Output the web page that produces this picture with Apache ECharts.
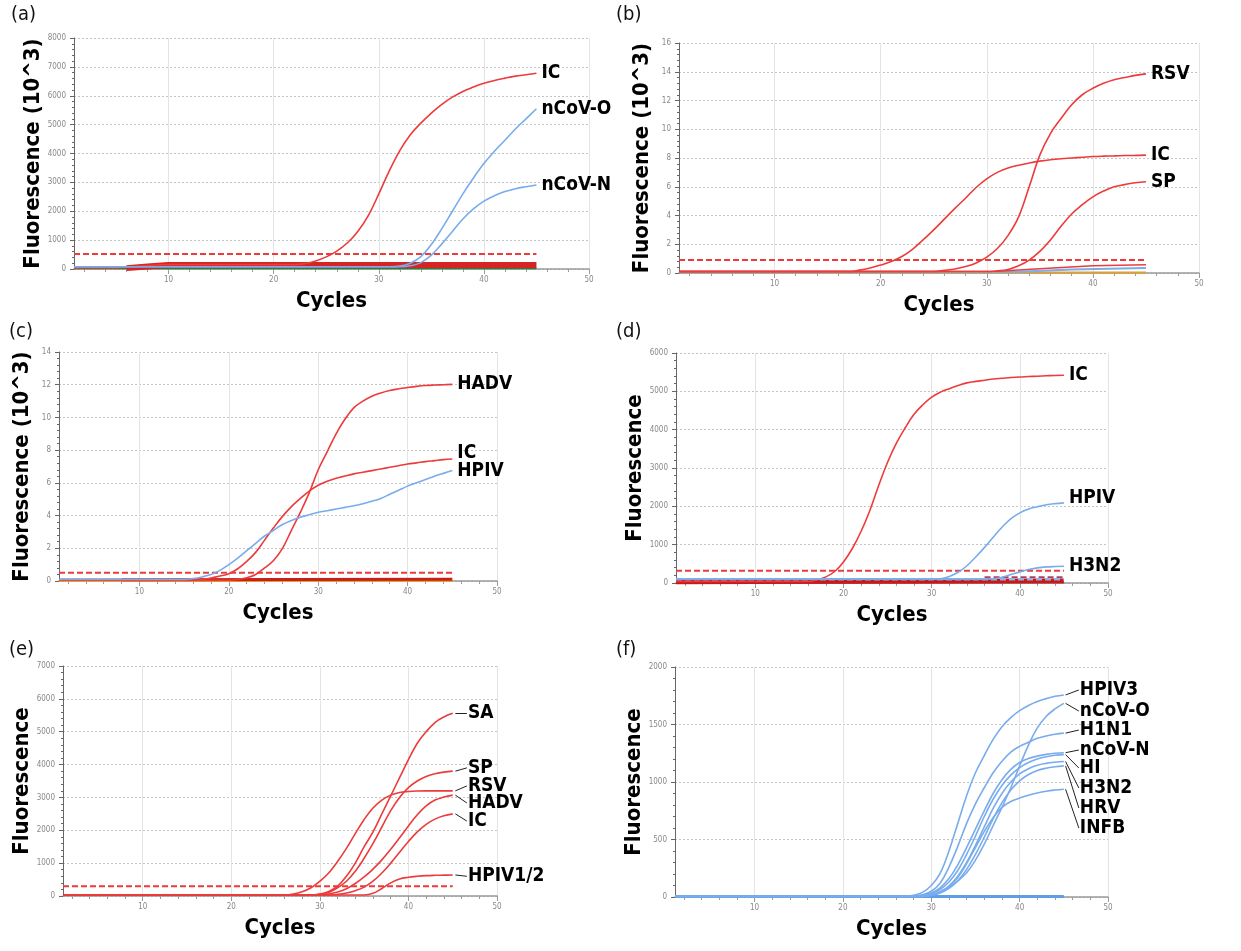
<!DOCTYPE html>
<html><head><meta charset="utf-8">
<script src="https://cdn.jsdelivr.net/npm/echarts@6/dist/echarts.min.js"></script>
<style>html,body{margin:0;padding:0;background:#fff}#c{width:1241px;height:951px}</style>
</head><body><div id="c"></div>
<script>
const cycles = [1,2,3,4,5,6,7,8,9,10,11,12,13,14,15,16,17,18,19,20,21,22,23,24,25,26,27,28,29,30,31,32,33,34,35,36,37,38,39,40,41,42,43,44,45];
const xTickLabels = [10,20,30,40,50];

// (a)
const aIC    = [40,40,40,40,40,60,90,120,140,150,150,150,150,150,150,150,150,150,150,150,150,150,190,280,420,620,900,1300,1850,2600,3400,4100,4650,5050,5400,5700,5950,6150,6300,6430,6530,6610,6680,6730,6780];
const aNCoVO = [80,80,80,80,80,80,80,80,80,80,80,80,80,80,80,80,80,80,80,80,80,80,80,80,80,80,80,80,80,80,80,100,200,430,850,1400,2000,2600,3150,3650,4080,4460,4850,5200,5550];
const aNCoVN = [80,80,80,80,80,80,80,80,80,80,80,80,80,80,80,80,80,80,80,80,80,80,80,80,80,80,80,80,80,80,80,80,110,220,480,870,1300,1730,2080,2350,2540,2680,2780,2850,2910];
const aThreshold = [[1,520],[45,520]];
const aBaseRed = [[6,30],[8,90],[10,140],[45,140]];
const aBaseGreen = [[1,25],[45,25]];

// (b)
const bRSV = [0.1,0.1,0.1,0.1,0.1,0.1,0.1,0.1,0.1,0.1,0.1,0.1,0.1,0.1,0.1,0.1,0.1,0.1,0.1,0.1,0.1,0.1,0.1,0.1,0.1,0.18,0.28,0.45,0.7,1.1,1.7,2.6,3.9,6.0,8.2,9.7,10.75,11.7,12.4,12.85,13.2,13.45,13.6,13.75,13.85];
const bIC  = [0.1,0.1,0.1,0.1,0.1,0.1,0.1,0.1,0.1,0.1,0.1,0.1,0.1,0.1,0.1,0.1,0.1,0.2,0.35,0.55,0.8,1.15,1.65,2.3,3.0,3.75,4.5,5.2,5.95,6.55,7.0,7.3,7.5,7.65,7.78,7.88,7.95,8.0,8.05,8.1,8.13,8.15,8.17,8.18,8.2];
const bSP  = [0.1,0.1,0.1,0.1,0.1,0.1,0.1,0.1,0.1,0.1,0.1,0.1,0.1,0.1,0.1,0.1,0.1,0.1,0.1,0.1,0.1,0.1,0.1,0.1,0.1,0.1,0.1,0.1,0.1,0.1,0.15,0.25,0.5,0.9,1.5,2.3,3.25,4.1,4.75,5.3,5.7,6.0,6.15,6.28,6.35];
const bThreshold = [[1,0.9],[45,0.9]];
const bLowRed = [[1,0.1],[31,0.12],[35,0.3],[40,0.5],[45,0.58]];
const bLowBlue = [[1,0.06],[33,0.08],[38,0.25],[45,0.35]];
const bBaseOrange = [[1,0.03],[45,0.03]];

// (c)
const cHADV = [0.05,0.05,0.05,0.05,0.05,0.05,0.05,0.05,0.05,0.05,0.05,0.05,0.05,0.05,0.05,0.05,0.05,0.05,0.05,0.05,0.1,0.2,0.4,0.8,1.25,2.0,3.1,4.2,5.4,6.8,7.9,9.0,9.9,10.6,11.0,11.3,11.5,11.65,11.75,11.83,11.9,11.95,11.98,12.0,12.02];
const cIC   = [0.1,0.1,0.1,0.1,0.1,0.1,0.1,0.1,0.1,0.1,0.1,0.1,0.1,0.1,0.1,0.1,0.1,0.18,0.3,0.45,0.75,1.2,1.75,2.5,3.25,3.95,4.55,5.05,5.5,5.85,6.1,6.28,6.42,6.55,6.65,6.75,6.85,6.95,7.05,7.15,7.22,7.3,7.36,7.42,7.46];
const cHPIV = [0.1,0.1,0.1,0.1,0.1,0.1,0.1,0.1,0.1,0.1,0.1,0.1,0.1,0.1,0.1,0.15,0.25,0.4,0.65,1.0,1.4,1.85,2.3,2.75,3.1,3.45,3.7,3.9,4.05,4.2,4.3,4.4,4.5,4.6,4.72,4.87,5.05,5.3,5.55,5.8,6.0,6.2,6.4,6.58,6.75];
const cThreshold = [[1,0.5],[45,0.5]];
const cBaseOrange = [[1,0.03],[45,0.03]];
const cBaseRed = [[8,0.08],[45,0.1]];

// (d)
const dIC   = [40,40,40,40,40,40,40,40,40,40,40,40,40,40,40,40,80,160,300,550,900,1350,1900,2550,3150,3650,4050,4400,4650,4850,4980,5070,5150,5220,5260,5290,5320,5340,5360,5375,5385,5395,5405,5415,5420];
const dHPIV = [100,100,100,100,100,100,100,100,100,100,100,100,100,100,100,100,100,100,100,100,100,100,100,100,100,100,100,100,100,100,110,170,280,450,680,930,1200,1460,1680,1830,1930,1990,2040,2070,2090];
const dH3N2 = [100,100,100,100,100,100,100,100,100,100,100,100,100,100,100,100,100,100,100,100,100,100,100,100,100,100,100,100,100,100,100,100,100,100,100,100,110,150,220,290,350,395,420,430,435];
const dThresholdRed = [[1,320],[45,320]];
const dThresholdBlue = [[1,96],[45,96]];
const dBaseRed = [[1,30],[10,40],[45,55]];
const dBaseDash = [[36,150],[45,150]];

// (e)
const eSA   = [30,30,30,30,30,30,30,30,30,30,30,30,30,30,30,30,30,30,30,30,30,30,30,30,30,30,30,30,30,60,140,300,600,1000,1500,1950,2500,3050,3600,4150,4650,5000,5280,5450,5560];
const eSP   = [30,30,30,30,30,30,30,30,30,30,30,30,30,30,30,30,30,30,30,30,30,30,30,30,30,30,30,30,30,50,110,250,450,750,1150,1600,2100,2600,3000,3300,3500,3640,3720,3770,3800];
const eRSV  = [30,30,30,30,30,30,30,30,30,30,30,30,30,30,30,30,30,30,30,30,30,30,30,30,30,30,60,130,250,450,700,1050,1450,1900,2330,2680,2920,3070,3150,3180,3195,3200,3200,3200,3200];
const eHADV = [30,30,30,30,30,30,30,30,30,30,30,30,30,30,30,30,30,30,30,30,30,30,30,30,30,30,30,30,30,30,60,120,220,380,580,820,1100,1420,1770,2130,2470,2740,2920,3010,3070];
const eIC   = [30,30,30,30,30,30,30,30,30,30,30,30,30,30,30,30,30,30,30,30,30,30,30,30,30,30,30,30,30,30,30,50,90,160,270,450,700,1000,1330,1660,1950,2180,2340,2440,2500];
const eHPIV12 = [30,30,30,30,30,30,30,30,30,30,30,30,30,30,30,30,30,30,30,30,30,30,30,30,30,30,30,30,30,30,30,30,30,30,30,80,230,400,520,570,600,620,630,635,640];
const eThreshold = [[1,300],[45,300]];
const eLabelNames = ['SA','SP','RSV','HADV','IC','HPIV1/2'];
const eLabelY = [5560,3900,3350,2830,2280,600];

// (f)
const fHPIV3 = [5,5,5,5,5,5,5,5,5,5,5,5,5,5,5,5,5,5,5,5,5,5,5,5,5,5,5,15,40,100,205,400,640,880,1080,1230,1370,1480,1560,1620,1665,1700,1725,1745,1757];
const fNCoVO = [5,5,5,5,5,5,5,5,5,5,5,5,5,5,5,5,5,5,5,5,5,5,5,5,5,5,5,5,5,20,40,80,140,210,320,460,620,780,950,1140,1320,1470,1570,1635,1684];
const fH1N1  = [5,5,5,5,5,5,5,5,5,5,5,5,5,5,5,5,5,5,5,5,5,5,5,5,5,5,5,5,20,50,120,260,440,640,810,950,1080,1180,1260,1310,1345,1380,1400,1415,1425];
const fNCoVN = [5,5,5,5,5,5,5,5,5,5,5,5,5,5,5,5,5,5,5,5,5,5,5,5,5,5,5,5,15,35,80,160,280,430,590,750,900,1020,1110,1170,1205,1225,1240,1250,1255];
const fHI    = [5,5,5,5,5,5,5,5,5,5,5,5,5,5,5,5,5,5,5,5,5,5,5,5,5,5,5,5,12,30,65,130,230,370,530,700,850,970,1060,1125,1170,1200,1220,1232,1238];
const fH3N2  = [5,5,5,5,5,5,5,5,5,5,5,5,5,5,5,5,5,5,5,5,5,5,5,5,5,5,5,5,5,20,45,95,180,300,450,610,770,900,1000,1070,1115,1145,1162,1172,1178];
const fHRV   = [5,5,5,5,5,5,5,5,5,5,5,5,5,5,5,5,5,5,5,5,5,5,5,5,5,5,5,5,5,15,35,75,140,240,370,520,680,820,930,1010,1065,1100,1120,1132,1140];
const fINFB  = [5,5,5,5,5,5,5,5,5,5,5,5,5,5,5,5,5,5,5,5,5,5,5,5,5,5,5,5,5,15,40,90,170,290,430,570,690,780,830,860,885,905,920,930,937];
const fThreshold = [[31,2],[45,2]];
const fBaseBlue = [[1,5],[45,5]];
const fLabelNames = ['HPIV3','nCoV-O','H1N1','nCoV-N','HI','H3N2','HRV','INFB'];
const fLabelY = [1800,1617,1452,1278,1122,948,774,600];

// axes
const yMax = [8000,16,14,6000,7000,2000];
const yInterval = [1000,2,2,1000,1000,500];
const yNames = ['Fluorescence (10^3)','Fluorescence (10^3)','Fluorescence (10^3)','Fluorescence','Fluorescence','Fluorescence'];
const panelLetters = ['(a)','(b)','(c)','(d)','(e)','(f)'];

// layout (pixels)
const grids = [
  {left:74,top:38,width:515,height:231},
  {left:679,top:43,width:520,height:230},
  {left:59,top:352,width:438,height:229},
  {left:676,top:353,width:432,height:230},
  {left:63,top:666,width:434,height:230},
  {left:675,top:667,width:433,height:230}
];
const letterPos = [[11,5],[616,5],[9,322],[616,322],[9,640],[616,640]];

const FONT = "'DejaVu Sans Condensed','Liberation Sans Narrow',sans-serif";
const RED = '#ec3b3b', BLUE = '#78acec';
const TITLE_SIZE = 22, LABEL_SIZE = 19;

const pts = vals => vals.map((v,i)=>[cycles[i], v]);

function curve(gi, name, vals, color, labelDy) {
  const s = {
    type:'line', name, xAxisIndex:gi, yAxisIndex:gi, data:pts(vals),
    smooth:0.4, showSymbol:false, silent:true,
    lineStyle:{color, width:1.6}, itemStyle:{color}, z:5
  };
  if (labelDy !== undefined) {
    s.endLabel = {show:true, formatter:()=>name, color:'#000', fontFamily:FONT,
      fontWeight:'bold', fontSize:LABEL_SIZE, distance:5, offset:[0,labelDy]};
  }
  return s;
}
function flat(gi, data, color, width, dashed, z) {
  return {type:'line', xAxisIndex:gi, yAxisIndex:gi, data, showSymbol:false, silent:true,
    lineStyle:{color, width, type: dashed ? [6,3] : 'solid'}, z: z||3};
}
function leaders(gi, names, endVals, labelY, x0, x1) {
  return [
    {type:'lines', coordinateSystem:'cartesian2d', xAxisIndex:gi, yAxisIndex:gi, silent:true, z:6,
     lineStyle:{color:'#222', width:1, opacity:1},
     data: names.map((n,i)=>({coords:[[x0, endVals[i]],[x1, labelY[i]]]}))},
    {type:'scatter', xAxisIndex:gi, yAxisIndex:gi, symbolSize:0, silent:true, z:6,
     itemStyle:{color:'#000', opacity:1},
     data: names.map((n,i)=>({name:n, value:[x1, labelY[i]]})),
     label:{show:true, position:'right', distance:1, formatter:'{b}', color:'#000', opacity:1,
       fontFamily:FONT, fontWeight:'bold', fontSize:LABEL_SIZE}}
  ];
}

const xAxes = grids.map((g,i)=>({
  type:'value', gridIndex:i, min:1, max:50,
  name:'Cycles', nameLocation:'middle', nameGap:21,
  nameTextStyle:{fontFamily:FONT, fontWeight:'bold', fontSize:TITLE_SIZE, color:'#000'},
  axisLine:{show:true, onZero:false, lineStyle:{color:'#9a9a9a', width:1.5}},
  axisTick:{show:true, customValues:xTickLabels, length:5, lineStyle:{color:'#9a9a9a'}},
  minorTick:{show:true, splitNumber:5, length:3, lineStyle:{color:'#9a9a9a'}},
  axisLabel:{customValues:xTickLabels, fontSize:8, color:'#888', fontFamily:FONT, margin:7,
    formatter:v=>String(v)},
  splitLine:{show:true, lineStyle:{color:'#e4e4e4', width:1}}
}));
const yAxes = grids.map((g,i)=>({
  type:'value', gridIndex:i, min:0, max:yMax[i], interval:yInterval[i],
  name:yNames[i], nameLocation:'middle', nameGap:26,
  nameTextStyle:{fontFamily:FONT, fontWeight:'bold', fontSize:TITLE_SIZE, color:'#000'},
  axisLine:{show:true, lineStyle:{color:'#666', width:1}},
  axisTick:{show:true, length:4, lineStyle:{color:'#666'}},
  minorTick:{show:true, splitNumber:5, length:2, lineStyle:{color:'#666'}},
  axisLabel:{fontSize:8, color:'#888', fontFamily:FONT, margin:8, formatter:v=>String(v)},
  splitLine:{show:true, lineStyle:{color:'#c4c4c4', type:[2,2], width:1}}
}));

const eSeries = [eSA,eSP,eRSV,eHADV,eIC,eHPIV12];
const fSeries = [fHPIV3,fNCoVO,fH1N1,fNCoVN,fHI,fH3N2,fHRV,fINFB];

const series = [
  // a
  flat(0, aBaseGreen, '#2f7d2f', 2),
  flat(0, aBaseRed, '#d42424', 6),
  flat(0, aThreshold, RED, 2, true),
  curve(0,'IC',aIC,RED,0),
  curve(0,'nCoV-O',aNCoVO,BLUE,0),
  curve(0,'nCoV-N',aNCoVN,BLUE,0),
  // b
  flat(1, bBaseOrange, '#e2a02a', 2),
  flat(1, bLowBlue, BLUE, 2),
  flat(1, bLowRed, RED, 1.5),
  flat(1, bThreshold, RED, 2, true),
  curve(1,'RSV',bRSV,RED,0),
  curve(1,'IC',bIC,RED,0),
  curve(1,'SP',bSP,RED,0),
  // c
  flat(2, cBaseOrange, '#e6a030', 3),
  flat(2, cBaseRed, '#c42020', 3),
  flat(2, cThreshold, RED, 2, true),
  curve(2,'HADV',cHADV,RED,0),
  curve(2,'IC',cIC,RED,-6),
  curve(2,'HPIV',cHPIV,BLUE,0),
  // d
  flat(3, dBaseRed, '#c81818', 5),
  flat(3, dBaseDash, '#b04060', 2, true),
  flat(3, dThresholdBlue, '#8ab6e6', 2.5, true),
  flat(3, dThresholdRed, RED, 2, true),
  curve(3,'IC',dIC,RED,0),
  curve(3,'HPIV',dHPIV,BLUE,-5),
  curve(3,'H3N2',dH3N2,BLUE,0),
  // e
  flat(4, eThreshold, RED, 2, true),
  ...eSeries.map((v,i)=>curve(4, eLabelNames[i], v, RED)),
  ...leaders(4, eLabelNames, eSeries.map(v=>v[v.length-1]), eLabelY, 45.3, 46.6),
  // f
  flat(5, fBaseBlue, '#5e9ee6', 3),
  flat(5, fThreshold, '#5e9ee6', 1.5, true),
  ...fSeries.map((v,i)=>curve(5, fLabelNames[i], v, BLUE)),
  ...leaders(5, fLabelNames, fSeries.map(v=>v[v.length-1]), fLabelY, 45.2, 46.7)
];

const graphic = panelLetters.map((t,i)=>({
  type:'text', left:letterPos[i][0], top:letterPos[i][1], silent:true,
  style:{text:t, font:"20px " + FONT, fill:'#111'}
}));

const chart = echarts.init(document.getElementById('c'), null, {renderer:'canvas'});
chart.setOption({
  backgroundColor:'#fff',
  animation:false,
  grid:grids,
  xAxis:xAxes,
  yAxis:yAxes,
  series,
  graphic
});
</script>
</body></html>
